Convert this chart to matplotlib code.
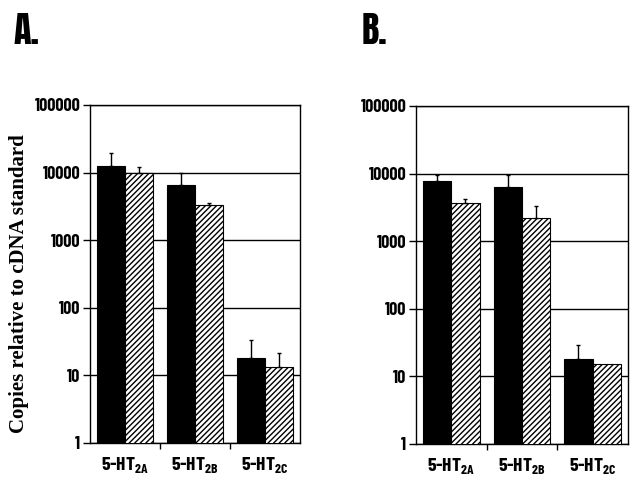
import matplotlib
matplotlib.use("Agg")
import matplotlib.pyplot as plt
import numpy as np

# ---- data ----
categories = ["5-HT$_{\\mathregular{2A}}$", "5-HT$_{\\mathregular{2B}}$", "5-HT$_{\\mathregular{2C}}$"]
a_black = [12600, 6600, 17.9]
a_black_err = [7000, 3300, 15]
a_hatch = [9900, 3300, 13.4]
a_hatch_err = [2400, 250, 8.3]
b_black = [7850, 6400, 18.1]
b_black_err = [1650, 3100, 11]
b_hatch = [3700, 2180, 15]
b_hatch_err = [470, 1140, 0]
yticks = [1, 10, 100, 1000, 10000, 100000]
ytick_labels = ["1", "10", "100", "1000", "10000", "100000"]

plt.rcParams['hatch.linewidth'] = 1.0
plt.rcParams['mathtext.fontset'] = 'custom'
plt.rcParams['mathtext.rm'] = 'Barlow Condensed:bold'
cond = ['Barlow Condensed', 'Liberation Sans', 'DejaVu Sans']

fig = plt.figure(figsize=(6.44, 4.92), dpi=100)
axA = fig.add_axes([0.1398, 0.0996, 0.326, 0.687])
axB = fig.add_axes([0.646, 0.0976, 0.329, 0.687])

def draw(ax, black, berr, hatch, herr):
    x = np.arange(len(categories))
    w = 0.4
    ax.bar(x - w/2, black, width=w, color='black', edgecolor='black', linewidth=0.8, zorder=3)
    ax.bar(x + w/2, hatch, width=w, color='white', edgecolor='black', hatch='//////', linewidth=0.8, zorder=3)
    ax.errorbar(x - w/2, black, yerr=[np.zeros(3), berr], fmt='none', ecolor='black',
                elinewidth=1.0, capsize=1.5, capthick=1.0, zorder=4)
    mask = np.array(herr) > 0
    ax.errorbar((x + w/2)[mask], np.array(hatch)[mask], yerr=[np.zeros(mask.sum()), np.array(herr)[mask]],
                fmt='none', ecolor='black', elinewidth=1.0, capsize=1.5, capthick=1.0, zorder=4)
    ax.set_yscale('log')
    ax.set_ylim(1, 100000)
    ax.set_xlim(-0.5, 2.5)
    ax.set_yticks(yticks)
    ax.set_yticklabels(ytick_labels, fontfamily=cond, fontweight='bold', fontsize=13)
    ax.yaxis.set_minor_locator(matplotlib.ticker.NullLocator())
    ax.set_xticks(x)
    ax.set_xticklabels(categories, fontfamily=cond, fontweight='bold', fontsize=14)
    ax.set_xticks([0.5, 1.5], minor=True)
    ax.tick_params(axis='x', which='major', length=0, pad=9)
    ax.tick_params(axis='x', which='minor', length=4, width=1, direction='out')
    ax.tick_params(axis='y', which='major', length=5, width=1, direction='out', pad=2)
    ax.grid(axis='y', which='major', color='black', linewidth=1.0, zorder=1)
    ax.set_axisbelow(True)
    for s in ax.spines.values():
        s.set_linewidth(1.0)
        s.set_color('black')

draw(axA, a_black, a_black_err, a_hatch, a_hatch_err)
draw(axB, b_black, b_black_err, b_hatch, b_hatch_err)

fig.text(19/644, 1 - 284/492, "Copies relative to cDNA standard",
         fontfamily=['Liberation Serif', 'DejaVu Serif'], fontweight='bold', fontsize=15,
         rotation=90, ha='center', va='center')

fig.text(13/644, 1 - 30/492, "A.", fontfamily=['Anton', 'Liberation Sans'], fontsize=26, va='center', ha='left')
fig.text(362/644, 1 - 30/492, "B.", fontfamily=['Anton', 'Liberation Sans'], fontsize=26, va='center', ha='left')

fig.savefig("out.png", dpi=100)
